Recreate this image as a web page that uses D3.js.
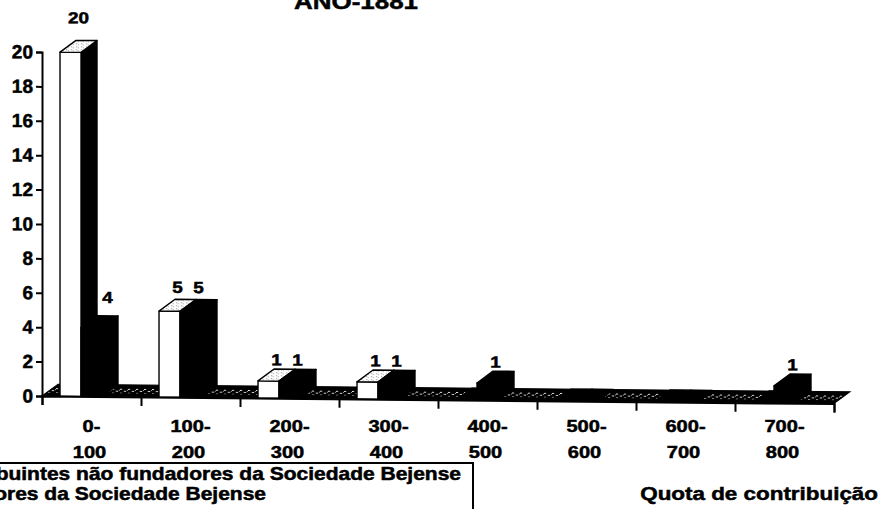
<!DOCTYPE html>
<html>
<head>
<meta charset="utf-8">
<script src="https://cdn.jsdelivr.net/npm/d3@7"></script>
<style>
  html, body { margin: 0; padding: 0; background: #fff; }
  svg { display: block; }
  text { font-family: "Liberation Sans", Arial, sans-serif; font-weight: bold; fill: #000;
         stroke: #000; stroke-width: 0.5px; }
</style>
</head>
<body>
<svg id="chart" width="881" height="509"></svg>
<script>
// ---------- data ----------
const title = "ANO-1881";
const categories = ["0-100", "100-200", "200-300", "300-400", "400-500", "500-600", "600-700", "700-800"];
const seriesNames = ["Contribuintes não fundadores da Sociedade Bejense", "Fundadores da Sociedade Bejense"];
const naoFundadores = [20, 5, 1, 1, 0, 0, 0, 0];
const fundadores = [4, 5, 1, 1, 1, 0, 0, 1];
const yTicks = [0, 2, 4, 6, 8, 10, 12, 14, 16, 18, 20];
const xTitle = "Quota de contribuição";

// ---------- layout ----------
const plotL = 42, plotR = 834, plotT = 52, plotB = 396;
const DX = 16, DY = 12;          // 3D depth offset
const STRETCH = 1.18;            // horizontal text stretch of the scan

const svg = d3.select("#chart");
const defs = svg.append("defs");
const pat = defs.append("pattern").attr("id", "speck")
  .attr("width", 8).attr("height", 4).attr("patternUnits", "userSpaceOnUse");
pat.append("rect").attr("width", 8).attr("height", 4).attr("fill", "#000");
pat.append("rect").attr("x", 0).attr("y", 0).attr("width", 2).attr("height", 1).attr("fill", "#eee");
pat.append("rect").attr("x", 4).attr("y", 2).attr("width", 2).attr("height", 1).attr("fill", "#fff");
pat.append("rect").attr("x", 7).attr("y", 1).attr("width", 1).attr("height", 1).attr("fill", "#aaa");

const tpat = defs.append("pattern").attr("id", "topspeck")
  .attr("width", 5).attr("height", 3).attr("patternUnits", "userSpaceOnUse");
tpat.append("rect").attr("width", 5).attr("height", 3).attr("fill", "#fff");
tpat.append("rect").attr("x", 1).attr("y", 1).attr("width", 1).attr("height", 1).attr("fill", "#777");
tpat.append("rect").attr("x", 3).attr("y", 2).attr("width", 1).attr("height", 1).attr("fill", "#999");

const x = d3.scaleBand().domain(categories).range([plotL, plotR]).paddingInner(0).paddingOuter(0);
const xb = d3.scaleLinear().domain([0, categories.length]).range([plotL, plotR]);
const y = d3.scaleLinear().domain([0, 20]).range([plotB, plotT]);
const bw = x.bandwidth();
const xs = d3.scaleBand().domain([0, 1]).range([0.182 * bw, 0.182 * bw + 0.424 * bw]).padding(0);
const sw = xs.bandwidth();

function stext(g, str, px, py, size, anchor) {
  return g.append("text")
    .attr("transform", `translate(${px},${py}) scale(${STRETCH},1)`)
    .attr("text-anchor", anchor || "middle")
    .style("font-size", size + "px")
    .text(str);
}

// plot group with slight shear of the scanned original
const skew = 0.55;
const plot = svg.append("g")
  .attr("transform", `translate(${plotL},${plotB}) skewY(${skew}) translate(${-plotL},${-plotB})`);

// floor
const y0 = y(0);
const floorPts = [[plotL, y0], [plotL + DX, y0 - DY], [plotR + DX, y0 - DY], [plotR, y0]];
plot.append("polygon").attr("points", floorPts.map(p => p.join(",")).join(" "))
  .attr("fill", "#000").attr("stroke", "#000").attr("stroke-width", 1);
const inset = 3.5;
const stripPts = [
  [plotL + DX * inset / DY, y0 - inset],
  [plotL + DX * (DY - inset) / DY, y0 - DY + inset],
  [plotR + DX * (DY - inset) / DY, y0 - DY + inset],
  [plotR + DX * inset / DY, y0 - inset]
];
plot.append("polygon").attr("points", stripPts.map(p => p.join(",")).join(" "))
  .attr("fill", "url(#speck)");

// bars
function poly(g, pts, fill) {
  return g.append("polygon").attr("points", pts.map(p => p.join(",")).join(" "))
    .attr("fill", fill).attr("stroke", "#000").attr("stroke-width", 1.4).attr("stroke-linejoin", "round");
}
const series = [naoFundadores, fundadores];
categories.forEach((c, i) => {
  series.forEach((vals, s) => {
    const v = vals[i];
    const x0 = x(c) + xs(s), x1 = x0 + sw, yv = y(v);
    const g = plot.append("g");
    // side face
    poly(g, [[x1, yv], [x1 + DX, yv - DY], [x1 + DX, y0 - DY], [x1, y0]], "#000");
    // front face
    if (v > 0) {
      poly(g, [[x0, yv], [x1, yv], [x1, y0], [x0, y0]], s === 0 ? "#fff" : "#000");
    }
    // top face
    poly(g, [[x0, yv], [x0 + DX, yv - DY], [x1 + DX, yv - DY], [x1, yv]],
      s === 0 && v > 0 ? "url(#topspeck)" : "#000");
    // value label (nudged aside when the neighbouring white bar is taller)
    if (v > 0) {
      const nudge = s === 1 && naoFundadores[i] > v;
      stext(plot, String(v), x0 + sw / 2 + DX / 2 + (nudge ? 8 : 0),
        yv - 15 - 0.7 * v - (nudge ? 7 : 0), 16);
    }
  });
});

// y axis
const yAxis = plot.append("g").attr("transform", `translate(${plotL},0)`)
  .call(d3.axisLeft(y).tickValues(yTicks).tickSize(6).tickPadding(3).tickFormat(d3.format("d")));
yAxis.select(".domain").attr("stroke", "#000").attr("stroke-width", 2);
yAxis.selectAll(".tick line").attr("stroke", "#000").attr("stroke-width", 2);
yAxis.selectAll(".tick text")
  .style("font-family", '"Liberation Sans", Arial, sans-serif')
  .style("font-weight", "bold").style("font-size", "19px").attr("fill", "#000");

// x axis ticks at band boundaries
const xAxis = plot.append("g").attr("transform", `translate(0,${plotB})`)
  .call(d3.axisBottom(xb).tickValues(d3.range(0, categories.length + 1)).tickSize(9).tickFormat(""));
xAxis.select(".domain").attr("stroke", "#000").attr("stroke-width", 2);
xAxis.selectAll(".tick line").attr("stroke", "#000").attr("stroke-width", 2);

// category labels
categories.forEach(c => {
  const k = c.indexOf("-");
  const cx = x(c) + bw / 2;
  stext(svg, c.slice(0, k + 1), cx, 432, 17);
  stext(svg, c.slice(k + 1), cx - 2, 457.5, 17);
});

// title
stext(svg, title, 356, 9, 22);

// x axis title
stext(svg, xTitle, 878, 500, 19, "end");

// legend (box partly outside the picture on the left)
svg.append("rect").attr("x", -120).attr("y", 463).attr("width", 593).attr("height", 80)
  .attr("fill", "none").attr("stroke", "#000").attr("stroke-width", 2);
const legY = [479.5, 500];
seriesNames.forEach((n, s) => {
  svg.append("rect").attr("x", -100).attr("y", legY[s] - 12).attr("width", 12).attr("height", 12)
    .attr("fill", s === 0 ? "#fff" : "#000").attr("stroke", "#000");
});
stext(svg, seriesNames[0], 461, legY[0], 17.8, "end");
stext(svg, seriesNames[1], 266, legY[1], 17.8, "end");
</script>
</body>
</html>
